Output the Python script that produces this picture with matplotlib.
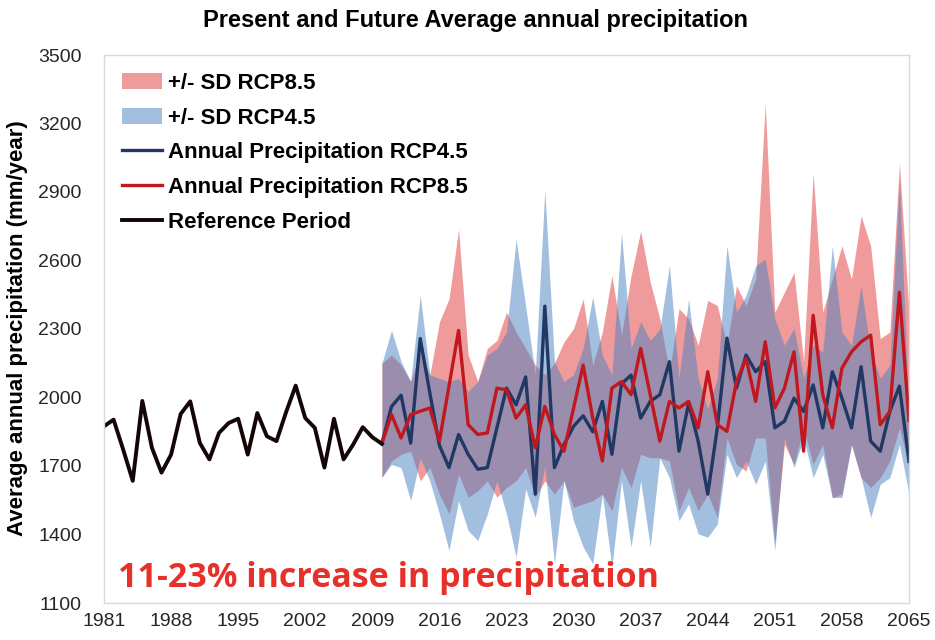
import numpy as np
import matplotlib
matplotlib.use('Agg')
from matplotlib import pyplot as plt
from matplotlib.patches import Patch
from matplotlib.lines import Line2D

plt.rcParams['font.family'] = ['Liberation Sans', 'DejaVu Sans']

# reference period 1981-2010
ref_years = list(range(1981, 2011))
ref_precip = [1874, 1903, 1772, 1635, 1985, 1780, 1671, 1750, 1928, 1983,
              1801, 1729, 1845, 1888, 1907, 1750, 1932, 1830, 1809, 1936,
              2052, 1910, 1867, 1693, 1907, 1729, 1794, 1870, 1826, 1797]

# projections 2010-2065
fut_years = list(range(2010, 2066))
rcp45 = [1800, 1960, 2010, 1800, 2258, 2020, 1790, 1693, 1838, 1751,
         1686, 1693, 1867, 2041, 1968, 2090, 1577, 2400, 1693, 1794,
         1874, 1920, 1850, 1983, 1751, 2060, 2098, 1910, 1983, 2012,
         2157, 1765, 1975, 1809, 1577, 1867, 2260, 2041, 2186, 2113,
         2157, 1867, 1896, 1997, 1939, 2055, 1867, 2113, 1997, 1867,
         2135, 1809, 1765, 1939, 2050, 1720]
rcp85 = [1800, 1925, 1823, 1925, 1940, 1954, 1809, 2050, 2294, 1881,
         1838, 1845, 2041, 2033, 1910, 1968, 1780, 1961, 1838, 1765,
         1954, 2142, 1910, 1722, 2041, 2070, 2012, 2215, 2012, 1809,
         1983, 1954, 1983, 1867, 2113, 1881, 1852, 2070, 2171, 1983,
         2244, 1954, 2041, 2200, 1765, 2360, 2012, 1867, 2128, 2200,
         2244, 2273, 1881, 1939, 2461, 1900]

# +/- SD envelopes
rcp45_hi = [2150, 2294, 2157, 2070, 2447, 2099, 2084, 2070, 2084, 2026,
            2070, 2186, 2215, 2287, 2693, 2400, 2100, 2911, 2157, 2070,
            2100, 2215, 2440, 2186, 2100, 2722, 2215, 2331, 2250, 2300,
            2577, 2084, 2432, 2084, 1950, 2084, 2664, 2374, 2447, 2577,
            2606, 2345, 2229, 2302, 2084, 2229, 2200, 2664, 2287, 2229,
            2490, 2200, 2084, 2142, 2954, 1900]
rcp45_lo = [1650, 1707, 1693, 1548, 1736, 1635, 1490, 1330, 1548, 1417,
            1374, 1490, 1635, 1490, 1301, 1600, 1475, 1700, 1272, 1635,
            1460, 1345, 1272, 1577, 1258, 1635, 1345, 1635, 1345, 1736,
            1649, 1461, 1533, 1403, 1388, 1446, 1751, 1649, 1722, 1620,
            1722, 1330, 1823, 1693, 1823, 1649, 1751, 1562, 1562, 1794,
            1649, 1475, 1620, 1649, 1794, 1577]
rcp85_hi = [2150, 2186, 2142, 2070, 2200, 2099, 2331, 2432, 2737, 2186,
            2070, 2215, 2250, 2374, 2287, 2215, 2142, 2100, 2150, 2244,
            2302, 2432, 2142, 2287, 2534, 2273, 2534, 2729, 2505, 2345,
            2113, 2389, 2345, 2229, 2425, 2403, 2229, 2490, 2403, 2519,
            3288, 2374, 2461, 2548, 2157, 2983, 2374, 2519, 2664, 2519,
            2795, 2664, 2258, 2287, 3027, 2374]
rcp85_lo = [1650, 1722, 1751, 1765, 1635, 1693, 1577, 1490, 1664, 1563,
            1592, 1635, 1563, 1606, 1635, 1693, 1563, 1635, 1577, 1635,
            1519, 1534, 1548, 1577, 1504, 1693, 1606, 1751, 1736, 1736,
            1722, 1504, 1606, 1504, 1577, 1475, 1823, 1707, 1678, 1823,
            1823, 1359, 1794, 1707, 1867, 1707, 1794, 1562, 1577, 1794,
            1649, 1606, 1649, 1722, 1867, 1700]

x_ticks = [1981, 1988, 1995, 2002, 2009, 2016, 2023, 2030, 2037, 2044, 2051, 2058, 2065]
y_ticks = [1100, 1400, 1700, 2000, 2300, 2600, 2900, 3200, 3500]

red_band = '#E33939'
blue_band = '#4680C0'
blue_line = '#1F3864'
red_line = '#C0181E'
black_line = '#140606'

fig = plt.figure(figsize=(9.35, 6.4), dpi=100)
ax = fig.add_axes([104 / 935, 37 / 640, 805 / 935, 548 / 640])

ax.fill_between(fut_years, rcp85_lo, rcp85_hi, color=red_band, alpha=0.5, lw=0)
ax.fill_between(fut_years, rcp45_lo, rcp45_hi, color=blue_band, alpha=0.5, lw=0)
ax.plot(fut_years, rcp45, color=blue_line, lw=2.4)
ax.plot(fut_years, rcp85, color=red_line, lw=2.4)
ax.plot(ref_years, ref_precip, color=black_line, lw=2.8)

ax.set_xlim(1981, 2065)
ax.set_ylim(1100, 3500)
ax.set_xticks(x_ticks)
ax.set_yticks(y_ticks)
ax.tick_params(length=0, labelsize=14, labelcolor='#262626')
ax.tick_params(axis='x', pad=7)
ax.tick_params(axis='y', pad=16)
for s in ax.spines.values():
    s.set_color('#D9D9D9')
    s.set_linewidth(1)

handles = [Patch(facecolor=red_band, alpha=0.5, lw=0),
           Patch(facecolor=blue_band, alpha=0.5, lw=0),
           Line2D([], [], color=blue_line, lw=2.4),
           Line2D([], [], color=red_line, lw=2.4),
           Line2D([], [], color=black_line, lw=2.8)]
labels = ['+/- SD RCP8.5', '+/- SD RCP4.5', 'Annual Precipitation RCP4.5',
          'Annual Precipitation RCP8.5', 'Reference Period']
ax.legend(handles, labels, loc='upper left', bbox_to_anchor=(0.0, 1.0),
          frameon=False, prop={'size': 16, 'weight': 'bold'},
          handlelength=1.8, handleheight=0.75, handletextpad=0.3,
          labelspacing=0.62, borderpad=0.3)

fig.text(475 / 935, 1 - 20 / 640, 'Present and Future Average annual precipitation',
         ha='center', va='center', fontsize=17, fontweight='bold')
fig.text(18 / 935, 0.488, 'Average annual precipitation (mm/year)',
         rotation=90, ha='center', va='center', fontsize=16, fontweight='bold')
fig.text(118 / 935, 1 - 578 / 640, '11-23% increase in precipitation',
         ha='left', va='center', fontsize=24.5, fontweight='bold',
         color='#E8302A', family=['Open Sans', 'DejaVu Sans'])

fig.savefig('out.png', dpi=100)
plt.close()
